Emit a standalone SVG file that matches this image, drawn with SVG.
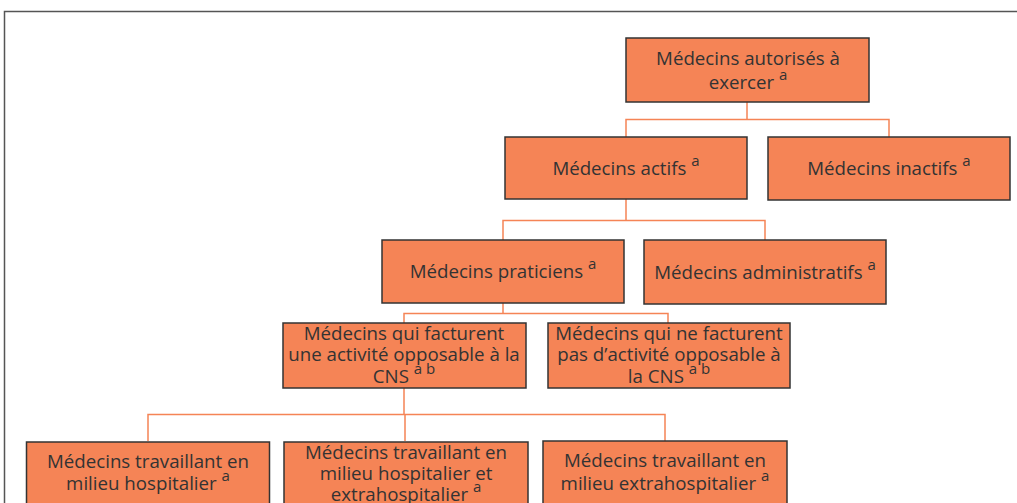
<svg xmlns="http://www.w3.org/2000/svg" width="1017" height="503" viewBox="0 0 1017 503">
<style>
.box{fill:#F58456;stroke:#333;stroke-width:1.5}
.t{font-family:"Open Sans","Noto Sans",sans-serif;font-size:18.7px;fill:#333;text-anchor:middle}
.s{font-size:15px}
.c{fill:none;stroke:#F58456;stroke-width:1.5}
</style>
<rect width="1017" height="503" fill="#fff"/>
<path d="M4.5 503V11.5H1017" fill="none" stroke="#555" stroke-width="1.5"/>
<g id="connectors">
<path class="c" d="M747 102V119.5M626 137V119.5H889V137"/>
<path class="c" d="M626 199V220.5M503 240V220.5H765V240"/>
<path class="c" d="M503 303V313.5M404 323V313.5H668V323"/>
<path class="c" d="M404 388V414.5M148 441V414.5H665V441M405 414.5V441"/>
</g>
<g id="n1"><rect class="box" x="626" y="38" width="243" height="64"/>
<text class="t" x="748" y="65">Médecins autorisés à</text>
<text class="t" x="748" y="89">exercer <tspan class="s" dy="-9">a</tspan></text></g>
<g id="n2"><rect class="box" x="505" y="137" width="242" height="62"/>
<text class="t" x="626" y="175">Médecins actifs <tspan class="s" dy="-9">a</tspan></text></g>
<g id="n3"><rect class="box" x="768" y="137" width="242" height="63"/>
<text class="t" x="889" y="175">Médecins inactifs <tspan class="s" dy="-9">a</tspan></text></g>
<g id="n4"><rect class="box" x="382" y="240" width="242" height="63"/>
<text class="t" x="503" y="278">Médecins praticiens <tspan class="s" dy="-9">a</tspan></text></g>
<g id="n5"><rect class="box" x="644" y="240" width="242" height="64"/>
<text class="t" x="765" y="279">Médecins administratifs <tspan class="s" dy="-9">a</tspan></text></g>
<g id="n6"><rect class="box" x="283" y="323" width="243" height="65"/>
<text class="t" x="404" y="340">Médecins qui facturent</text>
<text class="t" x="404" y="361">une activité opposable à la</text>
<text class="t" x="404" y="383">CNS <tspan class="s" dy="-9">a b</tspan></text></g>
<g id="n7"><rect class="box" x="548" y="323" width="242" height="65"/>
<text class="t" x="669" y="340">Médecins qui ne facturent</text>
<text class="t" x="669" y="361">pas d’activité opposable à</text>
<text class="t" x="669" y="383">la CNS <tspan class="s" dy="-9">a b</tspan></text></g>
<g id="n8"><rect class="box" x="26.5" y="442" width="243" height="70"/>
<text class="t" x="148" y="468">Médecins travaillant en</text>
<text class="t" x="148" y="490">milieu  hospitalier <tspan class="s" dy="-9">a</tspan></text></g>
<g id="n9"><rect class="box" x="284" y="442" width="244" height="70"/>
<text class="t" x="406" y="459">Médecins travaillant en</text>
<text class="t" x="406" y="480">milieu hospitalier et</text>
<text class="t" x="406" y="501">extrahospitalier <tspan class="s" dy="-9">a</tspan></text></g>
<g id="n10"><rect class="box" x="543" y="441" width="244" height="70"/>
<text class="t" x="665" y="467">Médecins travaillant en</text>
<text class="t" x="665" y="490">milieu extrahospitalier <tspan class="s" dy="-9">a</tspan></text></g>
</svg>
